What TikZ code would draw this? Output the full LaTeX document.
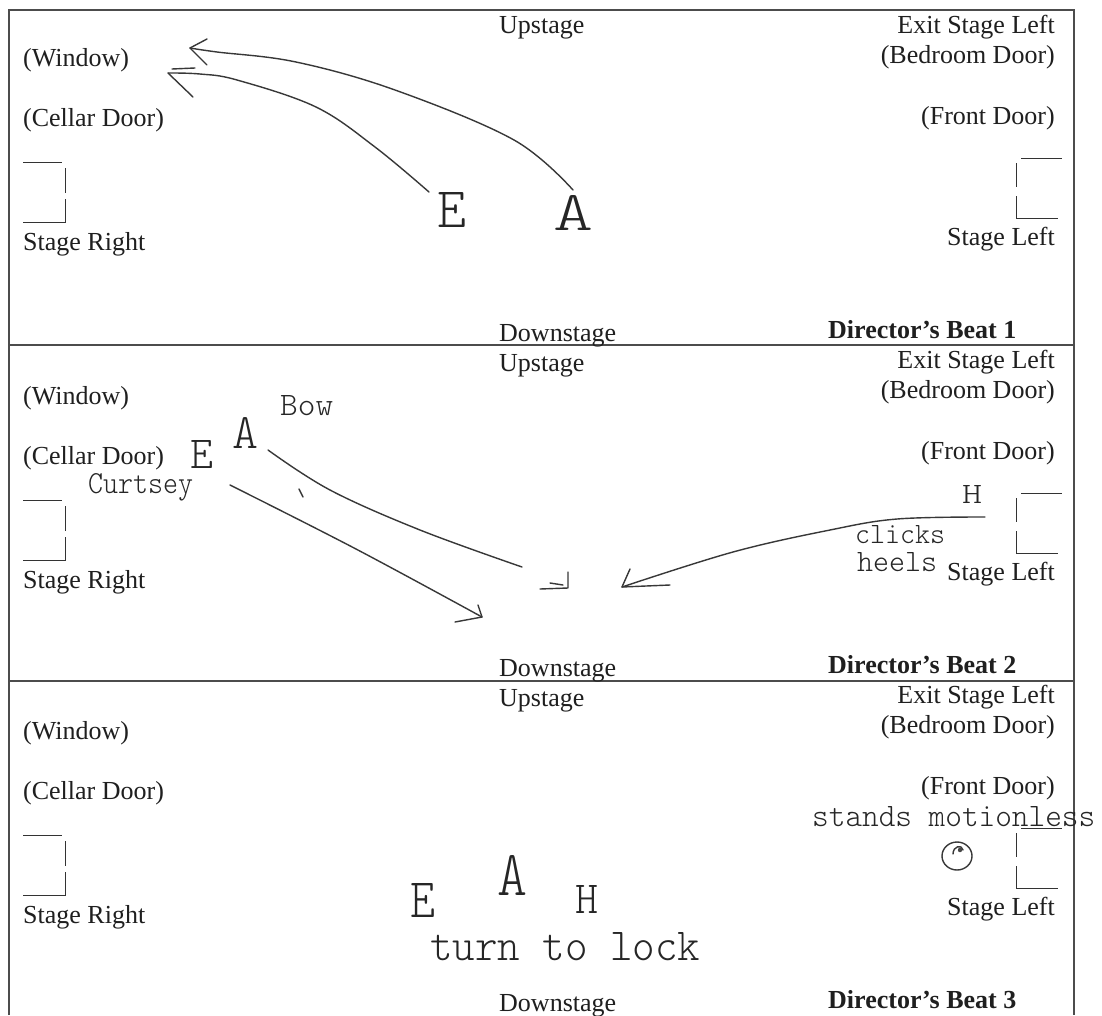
\documentclass[tikz,border=0pt]{standalone}
\usepackage{fontspec}
\setmainfont{Liberation Serif}
\usepackage{graphicx}
\newcommand\hw[3]{\resizebox{#1pt}{#2pt}{\ttfamily\fontseries{l}\selectfont #3}}
\newcommand\stagepanel[4]{%
  \node[typed,anchor=base west] (up#1) at (499,{33+#2}) {Upstage};
  \node[typed,anchor=base west] (win#1) at (23,{66+#2}) {(Window)};
  \node[typed,anchor=base west] (cel#1) at (23,{126+#2}) {(Cellar Door)};
  \node[typed,anchor=base west] (sr#1) at (23,{250+#2}) {Stage Right};
  \node[typed,anchor=base east] (exit#1) at (1055,{33+#3}) {Exit Stage Left};
  \node[typed,anchor=base east] (bed#1) at (1055,{63+#3}) {(Bedroom Door)};
  \node[typed,anchor=base east] (front#1) at (1055,{124+#3}) {(Front Door)};
  \node[typed,anchor=base east] (sl#1) at (1055,{245+#3}) {Stage Left};
  \node[typed,anchor=base west] (down#1) at (499,{341+#3}) {Downstage};
  \node[typed,anchor=base west,font=\fontsize{26}{30}\selectfont\bfseries] (beat#1) at (828,{338+#3}) {Director’s Beat #4};
  % stage right door bracket
  \draw[door] (23,{162+#2}) -- (62,{162+#2});
  \draw[door] (65,{168+#2}) -- (65,{193+#2});
  \draw[door] (65,{199+#2}) -- (65,{222+#2}) -- (23,{222+#2});
  % stage left door bracket
  \draw[door] (1021,{158+#3}) -- (1062,{158+#3});
  \draw[door] (1016,{163+#3}) -- (1016,{187+#3});
  \draw[door] (1016,{196+#3}) -- (1016,{218+#3}) -- (1058,{218+#3});
}
\begin{document}
\begin{tikzpicture}[x=1pt,y=-1pt,
  typed/.style={inner sep=0pt, font=\fontsize{26}{30}\selectfont, text=black!88},
  hand/.style={inner sep=0pt, text=black!85},
  ink/.style={line width=1.4pt, draw=black!78, line cap=round, line join=round},
  frame/.style={line width=1.2pt, draw=black!70},
  door/.style={line width=1pt, draw=black!80}]
\useasboundingbox (0,0) rectangle (1102,1015);
\fill[white] (0,0) rectangle (1102,1015);

% frame and dividers
\draw[frame] (9,1015) -- (9,10) -- (1074,10) -- (1074,1015);
\draw[frame] (9,345) -- (1074,345);
\draw[frame] (9,681) -- (1074,681);

\stagepanel{1}{0}{0}{1}
\stagepanel{2}{338}{335}{2}
\stagepanel{3}{673}{670}{3}

% ---------- Panel 1 handwriting ----------
\node[hand,anchor=base west] (e1) at (437,227) {\hw{29}{35}{E}};
\node[hand,anchor=base west] (a1) at (553,230) {\hw{40}{35}{A}};
\coordinate (a1s) at (573,190);
\coordinate (a1t) at (190,48);
\draw[ink] plot[smooth,tension=0.6] coordinates {(a1s) (514,140) (395,90) (296,62) (217,52) (a1t)};
\draw[ink] (207,39) -- (a1t) -- (207,65);
\coordinate (e1s) at (429,192);
\coordinate (e1t) at (168,73);
\draw[ink] plot[smooth,tension=0.6] coordinates {(e1s) (375,147) (316,107) (237,80) (200,74) (e1t)};
\draw[ink] (e1t) -- (193,97);
\draw[ink] (172,69) -- (195,68);

% ---------- Panel 2 handwriting ----------
\node[hand,anchor=base west] (bow2) at (280,415) {\hw{53}{20}{Bow}};
\node[hand,anchor=base west] (a2) at (232,448) {\hw{26}{31}{A}};
\node[hand,anchor=base west] (e2) at (190,468) {\hw{23}{28}{E}};
\node[hand,anchor=base west] (curt2) at (88,493) {\hw{105}{20}{Curtsey}};
\node[hand,anchor=base west] (h2) at (962,503) {\hw{20}{18}{H}};
\node[hand,anchor=base west] (clicks2) at (855,543) {\hw{90}{18}{clicks}};
\node[hand,anchor=base west] (heels2) at (857,571) {\hw{80}{19}{heels}};
% A moves downstage
\coordinate (a2s) at (268,450);
\coordinate (a2t) at (522,567);
\draw[ink] plot[smooth,tension=0.6] coordinates {(a2s) (330,490) (420,530) (a2t)};
\draw[ink] (568,572) -- (568,588) -- (540,589);
\draw[ink] (550,583) -- (563,585);
% E moves downstage
\coordinate (e2s) at (230,485);
\coordinate (e2t) at (482,617);
\draw[ink] plot[smooth,tension=0.6] coordinates {(e2s) (356,549) (e2t)};
\draw[ink] (455,622) -- (e2t) -- (478,605);
\draw[ink] (299,489) -- (303,497);
% H moves in from stage left
\coordinate (h2s) at (985,517);
\coordinate (h2t) at (622,587);
\draw[ink] plot[smooth,tension=0.6] coordinates {(h2s) (897,519) (830,530) (733,552) (h2t)};
\draw[ink] (630,569) -- (h2t) -- (670,585);

% ---------- Panel 3 handwriting ----------
\node[hand,anchor=base west] (e3) at (410,917) {\hw{25}{34}{E}};
\node[hand,anchor=base west] (a3) at (497,895) {\hw{30}{40}{A}};
\node[hand,anchor=base west] (h3) at (575,913) {\hw{23}{28}{H}};
\node[hand,anchor=base west] (turn3) at (430,960) {\hw{270}{28}{turn to lock}};
\node[hand,anchor=base west] (stands3) at (812,826) {\hw{283}{20}{stands motionless}};
\draw[ink] (957,856) ellipse [x radius=15, y radius=14];
\draw[ink] (953,854) .. controls (953,846) and (962,844) .. (963,850);
\fill[black!72] (960,850) circle (2.2);
\end{tikzpicture}
\end{document}
